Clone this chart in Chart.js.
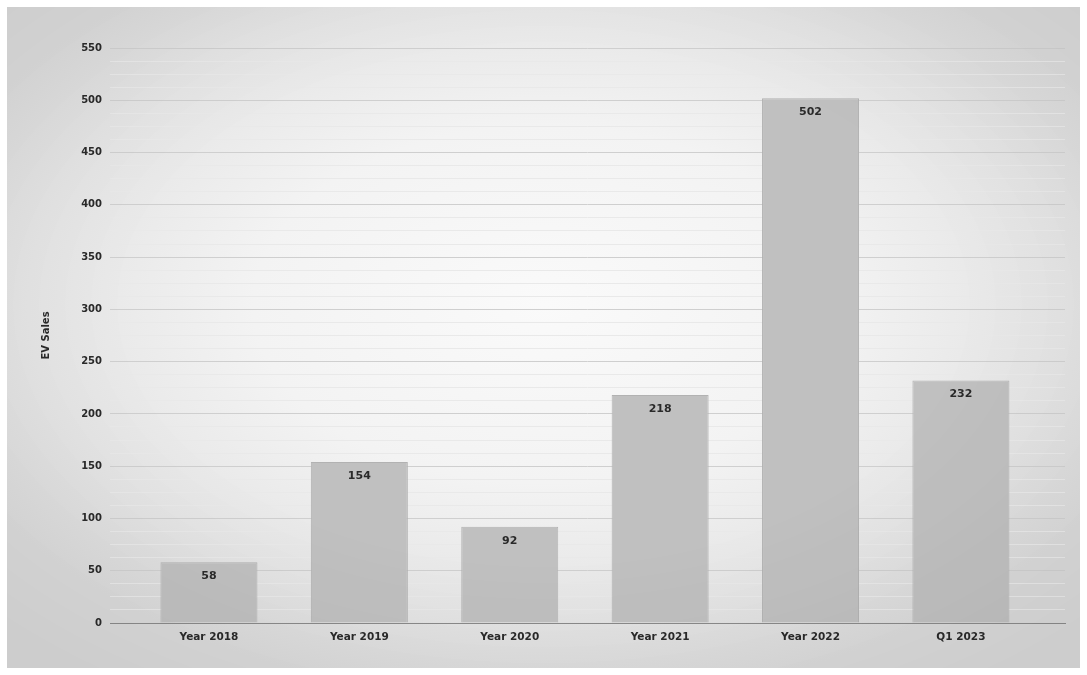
<!DOCTYPE html>
<html>
<head>
<meta charset="utf-8">
<script src="https://cdn.jsdelivr.net/npm/chart.js@4"></script>
<style>
  html, body { margin: 0; padding: 0; background: #ffffff; }
  #wrap { position: relative; width: 1087px; height: 675px; overflow: hidden; }
  #panel { position: absolute; left: 7px; top: 7px; width: 1073px; height: 661px;
    background: radial-gradient(ellipse 60% 60% at 50% 45%, #fafafa 0%, #f3f3f3 45%, #e4e4e4 80%, #d9d9d9 100%); }
  #c { position: absolute; left: 0; top: 0; }
  #vig { position: absolute; left: 7px; top: 7px; width: 1073px; height: 661px; pointer-events: none;
    background: radial-gradient(ellipse 70% 70% at 50% 45%, rgba(0,0,0,0) 55%, rgba(0,0,0,0.05) 100%); }
</style>
</head>
<body>
<div id="wrap">
  <div id="panel"></div>
  <canvas id="c" width="1087" height="675"></canvas>
  <div id="vig"></div>
</div>
<script>
const categories = ["Year 2018", "Year 2019", "Year 2020", "Year 2021", "Year 2022", "Q1 2023"];
const evSales = [58, 154, 92, 218, 502, 232];
const yTickLabels = [0, 50, 100, 150, 200, 250, 300, 350, 400, 450, 500, 550];
const yAxisTitle = "EV Sales";

const FONT = "'DejaVu Sans', Verdana, sans-serif";

const valueLabels = {
  id: 'valueLabels',
  afterDatasetsDraw(chart) {
    const ctx = chart.ctx;
    const meta = chart.getDatasetMeta(0);
    ctx.save();
    ctx.font = "bold 11px " + FONT;
    ctx.fillStyle = "#2a2a2a";
    ctx.textAlign = "center";
    ctx.textBaseline = "middle";
    meta.data.forEach((bar, i) => {
      ctx.fillText(String(evSales[i]), bar.x, bar.y + 14);
    });
    ctx.restore();
  }
};

new Chart(document.getElementById('c'), {
  type: 'bar',
  data: {
    datasets: [{
      data: categories.map((c, i) => ({ x: i, y: evSales[i] })),
      backgroundColor: "#c0c0c0",
      borderColor: "#b2b2b2",
      borderWidth: 1,
      categoryPercentage: 1.0,
      barPercentage: 0.645
    }]
  },
  options: {
    responsive: false,
    animation: false,
    layout: { padding: { left: 40, right: 22, top: 48, bottom: 0 } },
    plugins: { legend: { display: false }, tooltip: { enabled: false } },
    scales: {
      x: {
        type: 'linear',
        offset: false,
        min: -0.658,
        max: 5.692,
        afterBuildTicks: s => { s.ticks = categories.map((c, i) => ({ value: i })); },
        afterFit: s => { s.height = 52; },
        grid: { display: false, drawTicks: false },
        border: { display: true, color: "#8a8a8a", width: 1 },
        ticks: {
          autoSkip: false,
          maxRotation: 0,
          padding: 8,
          color: "#2a2a2a",
          font: { family: FONT, size: 10.5, weight: 'bold' },
          callback: v => categories[v] !== undefined ? categories[v] : ''
        }
      },
      y: {
        min: 0,
        max: 550,
        afterFit: s => { s.width = 70; },
        border: { display: false },
        grid: {
          drawTicks: false,
          color: ctx => (ctx.tick && ctx.tick.value % 50 === 0) ? "#cfcfcf" : "#e9e9e9",
          lineWidth: 1
        },
        ticks: {
          stepSize: 12.5,
          autoSkip: false,
          padding: 8,
          color: "#2a2a2a",
          font: { family: FONT, size: 10, weight: 'bold' },
          callback: v => yTickLabels.includes(v) ? String(v) : ''
        },
        title: {
          display: true,
          text: yAxisTitle,
          color: "#2a2a2a",
          font: { family: FONT, size: 10, weight: 'bold' },
          padding: { top: 0, bottom: 0 }
        }
      }
    }
  },
  plugins: [valueLabels]
});
</script>
</body>
</html>
